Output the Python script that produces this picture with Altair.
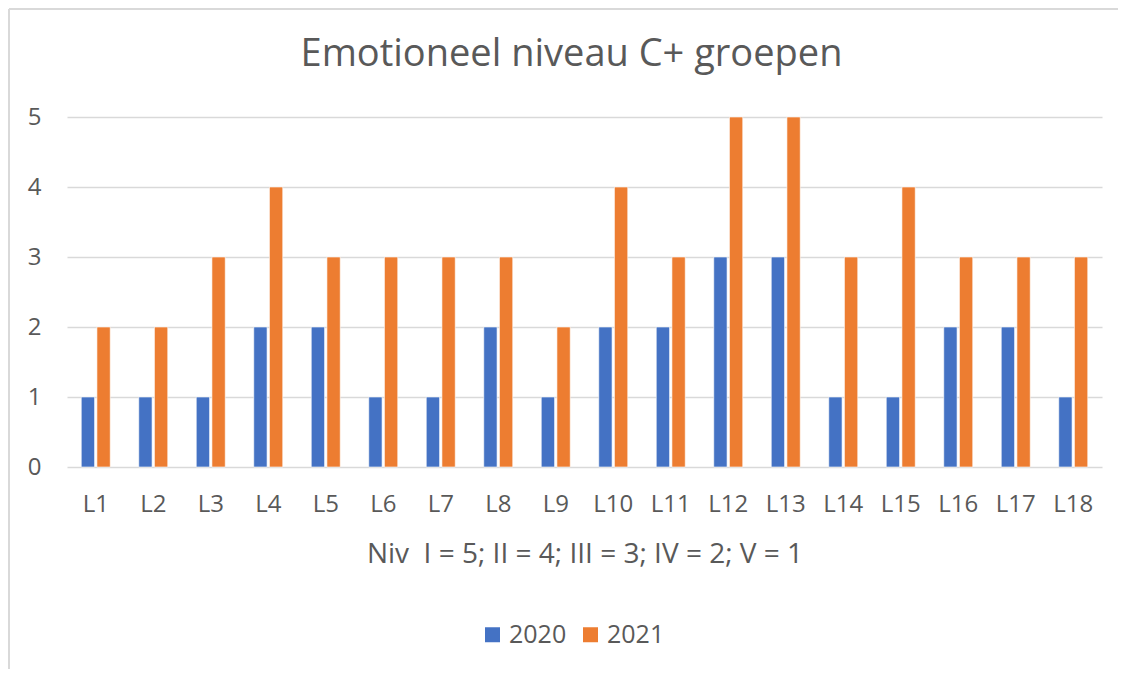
import altair as alt
import pandas as pd

categories = [f"L{i}" for i in range(1, 19)]
values_2020 = [1, 1, 1, 2, 2, 1, 1, 2, 1, 2, 2, 3, 3, 1, 1, 2, 2, 1]
values_2021 = [2, 2, 3, 4, 3, 3, 3, 3, 2, 4, 3, 5, 5, 3, 4, 3, 3, 3]
series = ["2020", "2021"]
colors = ["#4472C4", "#ED7D31"]

rows = []
for c, a, b in zip(categories, values_2020, values_2021):
    rows.append({"cat": c, "year": series[0], "val": a})
    rows.append({"cat": c, "year": series[1], "val": b})
df = pd.DataFrame(rows)

FONT = "Open Sans"
TXT = "#595959"

bars = alt.Chart(df).mark_bar(stroke="white", strokeWidth=0.6).encode(
    x=alt.X("cat:N", sort=categories,
            scale=alt.Scale(paddingInner=0.496, paddingOuter=0.248),
            axis=alt.Axis(title="Niv\u00a0 I = 5; II = 4; III = 3; IV = 2; V = 1",
                          labelAngle=0, ticks=False, domain=False,
                          labelPadding=25, titlePadding=24,
                          labelFontSize=24, titleFontSize=28,
                          labelColor=TXT, titleColor=TXT,
                          labelFont=FONT, titleFont=FONT, titleFontWeight="normal")),
    xOffset=alt.XOffset("year:N", sort=series,
                        scale=alt.Scale(paddingInner=0.15, paddingOuter=0)),
    y=alt.Y("val:Q", scale=alt.Scale(domain=[0, 5], nice=False),
            axis=alt.Axis(title=None, values=[0, 1, 2, 3, 4, 5], ticks=False, domain=False,
                          labelPadding=26, labelFontSize=24, labelColor=TXT, labelFont=FONT,
                          gridColor="#D9D9D9", gridWidth=1.5)),
    color=alt.Color("year:N", sort=series,
                    scale=alt.Scale(domain=series, range=colors),
                    legend=alt.Legend(title=None, orient="none", direction="horizontal",
                                      legendX=413, legendY=505,
                                      symbolType="square", symbolSize=225,
                                      symbolStrokeWidth=0,
                                      labelFontSize=25, labelColor=TXT, labelFont=FONT,
                                      labelOffset=4, columnPadding=11)),
)

frame_left = alt.Chart(df).mark_rule(color="#D9D9D9", strokeWidth=2).encode(
    x=alt.value(-58), y=alt.value(-108), y2=alt.value(560))
frame_top = alt.Chart(df).mark_rule(color="#D9D9D9", strokeWidth=2).encode(
    x=alt.value(-58), x2=alt.value(1060), y=alt.value(-108))

chart = alt.layer(frame_left, frame_top, bars).properties(
    width=1035, height=350,
    title=alt.Title("Emotioneel niveau C+ groepen", fontSize=38, font=FONT,
                    fontWeight="normal", color=TXT, anchor="middle",
                    offset=-66, dx=-13),
    autosize=alt.AutoSizeParams(type="none"),
    padding={"left": 59, "top": 109, "right": 16, "bottom": 202},
).configure_view(stroke=None)

chart.save("out.html", embed_options={"renderer": "svg", "actions": False})
